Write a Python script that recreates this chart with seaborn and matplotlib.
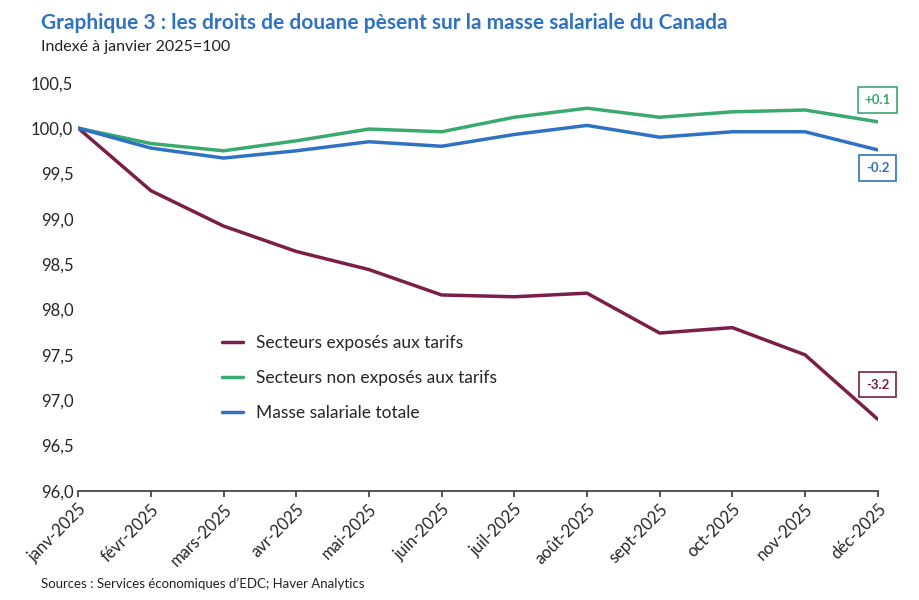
import matplotlib
matplotlib.use("Agg")
import matplotlib.pyplot as plt
import seaborn as sns
import pandas as pd

months = ["janv-2025","févr-2025","mars-2025","avr-2025","mai-2025","juin-2025",
          "juil-2025","août-2025","sept-2025","oct-2025","nov-2025","déc-2025"]
exposes = [100.0, 99.31, 98.92, 98.64, 98.44, 98.16, 98.14, 98.18, 97.74, 97.80, 97.50, 96.79]
non_exposes = [100.0, 99.83, 99.75, 99.86, 99.99, 99.96, 100.12, 100.22, 100.12, 100.18, 100.20, 100.07]
totale = [100.0, 99.78, 99.67, 99.75, 99.85, 99.80, 99.93, 100.03, 99.90, 99.96, 99.96, 99.76]
series_names = ["Secteurs exposés aux tarifs", "Secteurs non exposés aux tarifs", "Masse salariale totale"]
end_labels = ["-3.2", "+0.1", "-0.2"]
colors = ["#7b1f45", "#3aaa6e", "#2f72c4"]
yticks = [96.0, 96.5, 97.0, 97.5, 98.0, 98.5, 99.0, 99.5, 100.0, 100.5]

sns.set_theme(style="white")
plt.rcParams['font.family'] = ['Lato', 'DejaVu Sans']

rows = []
for name, vals in zip(series_names, [exposes, non_exposes, totale]):
    for i, (m, v) in enumerate(zip(months, vals)):
        rows.append({"idx": i, "mois": m, "valeur": v, "serie": name})
df = pd.DataFrame(rows)

fig = plt.figure(figsize=(9.2, 6), dpi=100)
ax = fig.add_axes([0.085, 0.182, 0.869, 0.68])
sns.lineplot(data=df, x="idx", y="valeur", hue="serie", palette=colors,
             hue_order=series_names, linewidth=2.5, ax=ax)
ax.set_xlim(0, 11)
ax.set_ylim(96.0, 100.5)
ax.set_yticks(yticks)
ax.set_yticklabels([f"{t:.1f}".replace(".", ",") for t in yticks], fontsize=12)
ax.set_xticks(range(12))
ax.set_xticklabels(months, rotation=45, ha="right", rotation_mode="anchor", fontsize=12)
ax.set_xlabel(""); ax.set_ylabel("")
for s in ["top", "right", "left"]:
    ax.spines[s].set_visible(False)
ax.spines["bottom"].set_color("#404040")
ax.tick_params(axis="x", length=4, color="#404040", bottom=True)
ax.tick_params(axis="y", length=0)

ax.legend(loc="upper left", bbox_to_anchor=(0.16, 0.42), frameon=False,
          fontsize=12.5, labelspacing=1.1, handlelength=1.2)

label_y = [97.17, 100.31, 99.56]
for lab, c, y in zip(end_labels, colors, label_y):
    ax.text(11.0, y, lab, color=c, fontsize=9.5, fontweight="bold", ha="center", va="center",
            bbox=dict(boxstyle="square,pad=0.5", fc="white", ec=c, lw=1.2), clip_on=False)

fig.text(0.045, 0.962, "Graphique 3 : les droits de douane pèsent sur la masse salariale du Canada",
         fontsize=15, fontweight="bold", color="#2f72c4", va="center")
fig.text(0.045, 0.922, "Indexé à janvier 2025=100", fontsize=11.5, color="#222222", va="center")
fig.text(0.045, 0.027, "Sources : Services économiques d’EDC; Haver Analytics", fontsize=9.5, color="#222222", va="center")

fig.savefig("out.png", dpi=100)
